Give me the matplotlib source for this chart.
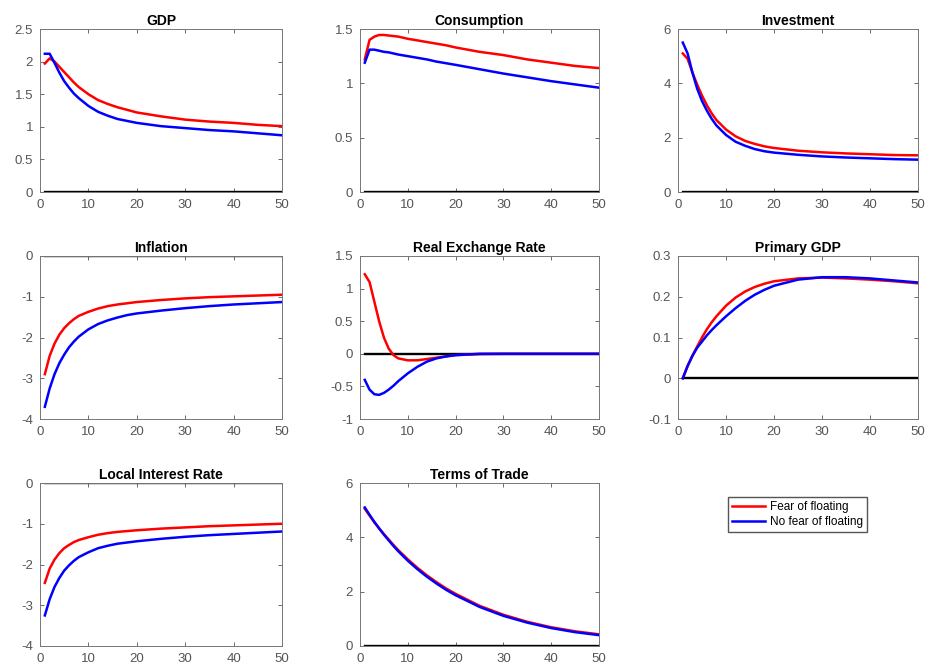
import numpy as np
import matplotlib
matplotlib.use('Agg')
import matplotlib.pyplot as plt

plt.rcParams['font.family'] = ['Liberation Sans', 'DejaVu Sans']

# =============================================================================
# Data (impulse responses, periods 1..50)
# =============================================================================
periods = [1, 2, 3, 4, 5, 6, 7, 8, 10, 12, 14, 16, 18, 20, 25, 30, 35, 40, 45, 50]

gdp_fear = [1.97, 2.05, 2.0, 1.92, 1.84, 1.76, 1.68, 1.61, 1.5, 1.41, 1.35, 1.3, 1.26, 1.22, 1.16, 1.11, 1.08, 1.06, 1.03, 1.01]
gdp_nofear = [2.12, 2.12, 1.98, 1.83, 1.7, 1.6, 1.51, 1.44, 1.32, 1.23, 1.17, 1.12, 1.09, 1.06, 1.01, 0.98, 0.95, 0.93, 0.9, 0.87]

cons_fear = [1.22, 1.4, 1.43, 1.445, 1.445, 1.44, 1.435, 1.43, 1.41, 1.395, 1.38, 1.365, 1.35, 1.33, 1.29, 1.26, 1.22, 1.19, 1.16, 1.14]
cons_nofear = [1.19, 1.31, 1.31, 1.3, 1.29, 1.285, 1.275, 1.265, 1.25, 1.235, 1.22, 1.2, 1.185, 1.17, 1.13, 1.09, 1.055, 1.02, 0.99, 0.96]

inv_fear = [5.1, 4.9, 4.4, 3.95, 3.55, 3.2, 2.9, 2.65, 2.3, 2.05, 1.88, 1.77, 1.68, 1.62, 1.52, 1.46, 1.42, 1.39, 1.36, 1.35]
inv_nofear = [5.5, 5.1, 4.4, 3.8, 3.35, 3.0, 2.7, 2.45, 2.1, 1.85, 1.7, 1.58, 1.5, 1.45, 1.37, 1.31, 1.27, 1.24, 1.21, 1.19]

infl_fear = [-2.9, -2.45, -2.15, -1.93, -1.77, -1.65, -1.55, -1.47, -1.37, -1.29, -1.23, -1.19, -1.16, -1.13, -1.08, -1.04, -1.01, -0.99, -0.97, -0.95]
infl_nofear = [-3.7, -3.25, -2.9, -2.63, -2.42, -2.24, -2.1, -1.98, -1.8, -1.67, -1.58, -1.51, -1.45, -1.41, -1.34, -1.28, -1.23, -1.19, -1.16, -1.13]

rer_fear = [1.22, 1.1, 0.8, 0.5, 0.25, 0.08, -0.02, -0.07, -0.1, -0.1, -0.08, -0.06, -0.04, -0.02, -0.005, 0.0, 0.0, 0.0, 0.0, 0.0]
rer_nofear = [-0.4, -0.55, -0.62, -0.63, -0.6, -0.55, -0.49, -0.42, -0.3, -0.2, -0.12, -0.07, -0.04, -0.02, 0.0, 0.0, 0.0, 0.0, 0.0, 0.0]

pgdp_fear = [0.0, 0.03, 0.055, 0.078, 0.1, 0.12, 0.137, 0.152, 0.178, 0.198, 0.213, 0.224, 0.232, 0.238, 0.245, 0.247, 0.245, 0.242, 0.238, 0.233]
pgdp_nofear = [0.0, 0.03, 0.055, 0.075, 0.09, 0.105, 0.118, 0.13, 0.152, 0.172, 0.19, 0.205, 0.217, 0.227, 0.242, 0.248, 0.248, 0.245, 0.24, 0.235]

rate_fear = [-2.45, -2.1, -1.88, -1.72, -1.6, -1.52, -1.45, -1.4, -1.33, -1.27, -1.23, -1.2, -1.18, -1.16, -1.12, -1.09, -1.06, -1.04, -1.02, -1.0]
rate_nofear = [-3.25, -2.85, -2.55, -2.33, -2.15, -2.02, -1.91, -1.82, -1.7, -1.6, -1.54, -1.49, -1.46, -1.43, -1.37, -1.32, -1.28, -1.25, -1.22, -1.19]

tot_fear = [5.05, 4.8, 4.55, 4.33, 4.12, 3.92, 3.72, 3.53, 3.19, 2.88, 2.6, 2.35, 2.12, 1.92, 1.48, 1.15, 0.89, 0.69, 0.54, 0.43]
tot_nofear = [5.1, 4.83, 4.57, 4.33, 4.1, 3.89, 3.68, 3.49, 3.14, 2.83, 2.55, 2.3, 2.07, 1.87, 1.44, 1.11, 0.86, 0.66, 0.51, 0.4]

titles = ['GDP', 'Consumption', 'Investment', 'Inflation', 'Real Exchange Rate',
          'Primary GDP', 'Local Interest Rate', 'Terms of Trade']
fear = [gdp_fear, cons_fear, inv_fear, infl_fear, rer_fear, pgdp_fear, rate_fear, tot_fear]
nofear = [gdp_nofear, cons_nofear, inv_nofear, infl_nofear, rer_nofear, pgdp_nofear, rate_nofear, tot_nofear]
ylims = [(0, 2.5), (0, 1.5), (0, 6), (-4, 0), (-1, 1.5), (-0.1, 0.3), (-4, 0), (0, 6)]
yticks = [[0, 0.5, 1, 1.5, 2, 2.5], [0, 0.5, 1, 1.5], [0, 2, 4, 6], [-4, -3, -2, -1, 0],
          [-1, -0.5, 0, 0.5, 1, 1.5], [-0.1, 0, 0.1, 0.2, 0.3], [-4, -3, -2, -1, 0], [0, 2, 4, 6]]

# =============================================================================
# Plot
# =============================================================================
W, H = 930, 671
fig = plt.figure(figsize=(W / 100, H / 100), dpi=100)

col_left = [40, 360, 678]
col_width = [242, 239, 240]
row_top = [29, 256, 483]
ax_h = 163

for i in range(8):
    r, c = divmod(i, 3)
    ax = fig.add_axes([col_left[c] / W, (H - row_top[r] - ax_h) / H, col_width[c] / W, ax_h / H])
    ax.plot(periods, np.zeros(len(periods)), color='black', lw=1.7, zorder=2)
    l1, = ax.plot(periods, fear[i], color='#ff0000', lw=1.8, label='Fear of floating', zorder=3)
    l2, = ax.plot(periods, nofear[i], color='#0000ff', lw=1.8, label='No fear of floating', zorder=4)
    ax.set_xlim(0, 50)
    ax.set_ylim(*ylims[i])
    ax.set_xticks([0, 10, 20, 30, 40, 50])
    ax.set_yticks(yticks[i])
    ax.set_yticklabels([('%g' % v) for v in yticks[i]])
    ax.set_title(titles[i], fontsize=10, fontweight='bold', pad=3)
    ax.tick_params(direction='in', length=3, width=0.6, labelsize=9.5, colors='#555555',
                   top=True, right=True, pad=5)
    for s in ax.spines.values():
        s.set_color('#777777')
        s.set_linewidth(0.7)

# legend in the empty cell
fig.legend(handles=[l1, l2], loc='upper left',
           bbox_to_anchor=(728 / W, (H - 497) / H), fontsize=8.5,
           frameon=True, fancybox=False, edgecolor='#555555', framealpha=1,
           handlelength=2.8, handletextpad=0.4, borderpad=0.35, labelspacing=0.25,
           borderaxespad=0)

fig.savefig('out.png', dpi=100)
